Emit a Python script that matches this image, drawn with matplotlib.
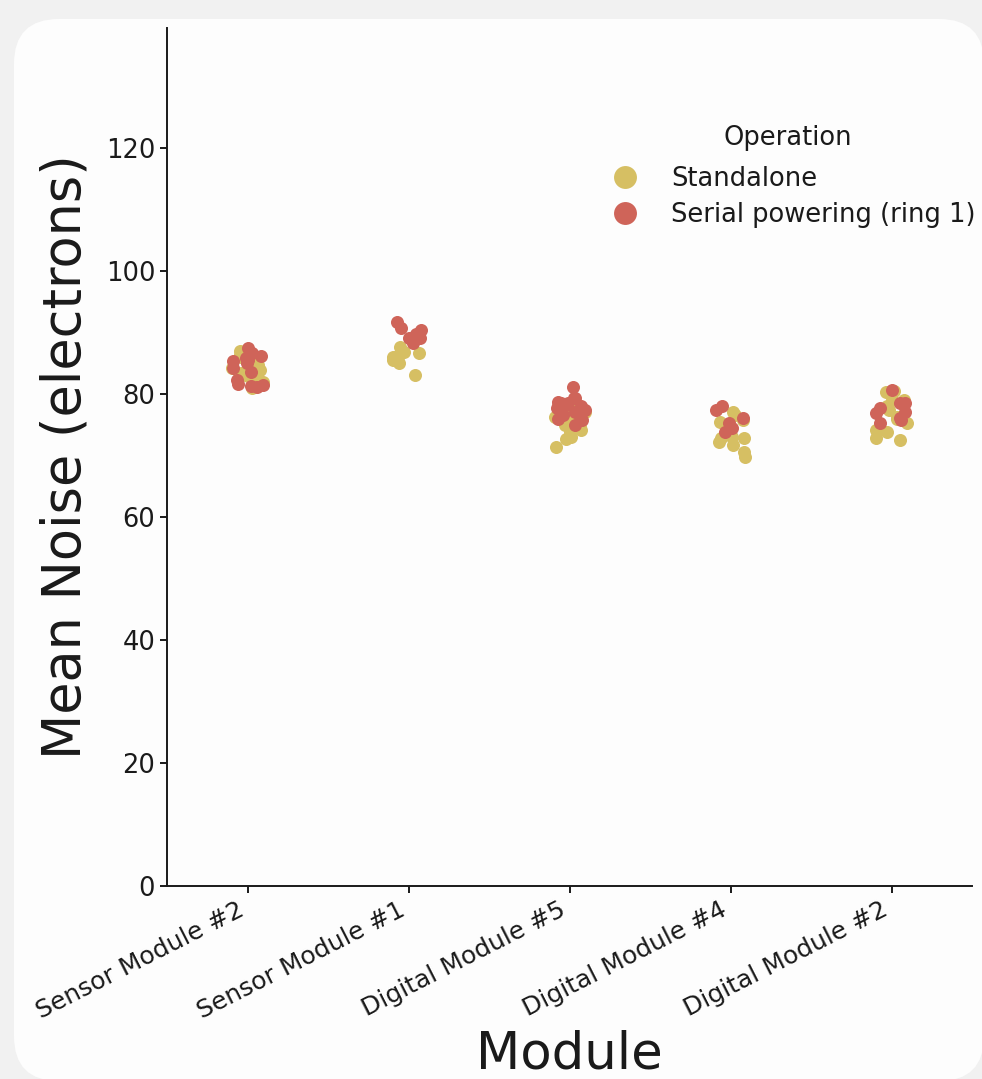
import numpy as np
import matplotlib
matplotlib.use("Agg")
import matplotlib.pyplot as plt
from matplotlib.patches import FancyBboxPatch
from matplotlib.lines import Line2D
from matplotlib.transforms import IdentityTransform

# ---------------- data ----------------
modules = ["Sensor Module #2", "Sensor Module #1", "Digital Module #5",
           "Digital Module #4", "Digital Module #2"]
operations = ["Standalone", "Serial powering (ring 1)"]

standalone = {
    "Sensor Module #2": [80.9, 81.8, 82.3, 82.8, 83.4, 83.9, 84.2, 84.7, 85.1,
                         85.5, 86.0, 86.4, 87.0, 86.8, 83.0, 84.0, 82.0],
    "Sensor Module #1": [87.6, 86.0, 85.0, 83.1, 86.3, 86.8, 85.5, 86.6],
    "Digital Module #5": [71.4, 73.0, 73.8, 74.1, 75.0, 75.8, 76.2, 76.8, 77.5,
                          78.0, 74.6, 72.6, 77.0, 78.5],
    "Digital Module #4": [69.7, 70.6, 71.7, 72.2, 72.8, 72.8, 73.0, 75.4, 75.8,
                          76.6, 77.1, 74.0, 73.5],
    "Digital Module #2": [72.5, 72.9, 73.8, 74.1, 74.1, 75.3, 76.3, 77.4, 79.0,
                          79.0, 80.3, 80.5, 76.0, 78.0],
}
serial = {
    "Sensor Module #2": [81.2, 81.3, 81.5, 81.6, 82.3, 83.6, 84.2, 85.3, 85.5,
                         85.9, 86.2, 86.7, 87.5, 85.0],
    "Sensor Module #1": [91.7, 90.7, 90.4, 89.1, 89.1, 88.3, 89.8],
    "Digital Module #5": [81.1, 79.3, 79.3, 78.7, 78.5, 78.5, 78.2, 77.7, 77.4,
                          77.4, 77.1, 76.6, 75.8, 75.0, 76.0, 78.0],
    "Digital Module #4": [78.1, 77.4, 76.1, 75.3, 74.5, 73.8],
    "Digital Module #2": [80.6, 78.5, 78.5, 77.7, 77.1, 76.9, 76.1, 75.8, 75.3],
}
yticks = [0, 20, 40, 60, 80, 100, 120]

# ---------------- style ----------------
W, H, DPI = 982, 1079, 100
colors = {"Standalone": "#d6bf63", "Serial powering (ring 1)": "#cf6459"}
ink = "#1a1a1a"

fig = plt.figure(figsize=(W / DPI, H / DPI), dpi=DPI)
fig.patch.set_facecolor("#f1f1f1")

card = FancyBboxPatch((14 + 45, -2 + 45), 984 - 14 - 90, 1060 + 2 - 90,
                      boxstyle="round,pad=45", transform=IdentityTransform(),
                      facecolor="#fdfdfd", edgecolor="none", zorder=-10)
fig.add_artist(card)

ax = fig.add_axes([167 / W, (H - 886) / H, (972 - 167) / W, (886 - 28) / H])
ax.set_facecolor("none")

rng = np.random.default_rng(7)
for i, m in enumerate(modules):
    for op, src in zip(operations, [standalone, serial]):
        vals = np.asarray(src[m])
        xj = i + rng.uniform(-0.1, 0.1, len(vals))
        ax.scatter(xj, vals, s=88, color=colors[op], linewidths=0, zorder=3)

ax.set_xlim(-0.5, len(modules) - 0.5)
ax.set_ylim(0, 139.5)
ax.set_yticks(yticks)
ax.set_xticks(range(len(modules)))
ax.set_xticklabels(modules, rotation=27, ha="right", rotation_mode="default")
ax.tick_params(axis="both", length=5, width=1.4, colors=ink, labelcolor=ink)
ax.tick_params(axis="y", labelsize=18.5)
ax.tick_params(axis="x", labelsize=18)
for s in ["top", "right"]:
    ax.spines[s].set_visible(False)
for s in ["left", "bottom"]:
    ax.spines[s].set_linewidth(1.4)
    ax.spines[s].set_color(ink)

ax.set_ylabel("Mean Noise (electrons)", fontsize=37.8, color=ink, labelpad=10)
ax.set_xlabel("Module", fontsize=37, color=ink, labelpad=4.5)

handles = [Line2D([], [], ls="none", marker="o", markersize=16.5,
                  markerfacecolor=colors[op], markeredgewidth=0) for op in operations]
leg = fig.legend(handles, operations, title="Operation", loc="upper left",
                 bbox_to_anchor=(576, 977), bbox_transform=IdentityTransform(),
                 frameon=False, fontsize=18.5, title_fontsize=18.5,
                 labelspacing=0.4, handletextpad=0.8, borderpad=0.4)
try:
    leg._legend_box.sep = 10.4
except Exception:
    pass
for t in leg.get_texts():
    t.set_color(ink)
leg.get_title().set_color(ink)

fig.savefig("out.png", dpi=DPI, facecolor=fig.get_facecolor())
